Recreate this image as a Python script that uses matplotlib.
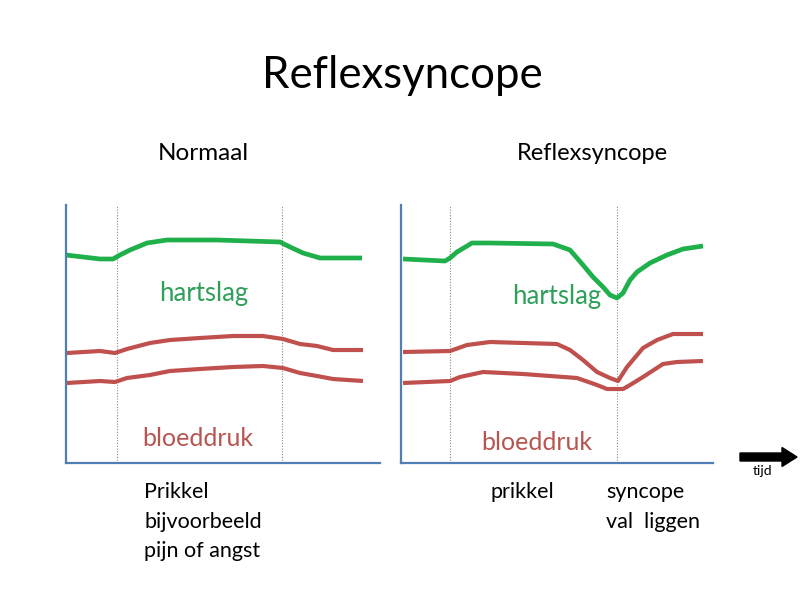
import matplotlib.pyplot as plt
from matplotlib.patches import FancyArrow

plt.rcParams["font.family"] = ["Lato", "DejaVu Sans"]

GREEN = "#1fb04c"
RED = "#c0504d"
AXIS_BLUE = "#4f7fb5"
GREEN_TEXT = "#2ea05a"
RED_TEXT = "#b85450"

# Normaal panel: time, level (arbitrary units above the baseline)
normal_hr_t = [0, 34, 47, 54, 64, 81, 101, 151, 214, 224, 237, 254, 296]
normal_hr = [208, 204, 204, 208, 213, 220, 223, 223, 221, 216, 210, 205, 205]
normal_bp_t = [1, 34, 49, 61, 84, 104, 134, 167, 197, 217, 234, 251, 267, 297]
normal_sys = [110, 112, 110, 114, 120, 123, 125, 127, 127, 124, 119, 117, 113, 113]
normal_dia = [80, 82, 81, 85, 88, 92, 94, 96, 97, 95, 90, 87, 84, 82]
normal_marks = [51, 216]

# Reflexsyncope panel
syncope_hr_t = [2, 44, 49, 56, 71, 89, 152, 169, 182, 192, 202, 209, 216,
                222, 229, 236, 249, 266, 282, 302]
syncope_hr = [204, 202, 205, 211, 220, 220, 219, 213, 198, 186, 176, 168, 165,
              170, 183, 191, 200, 208, 214, 217]
syncope_sys_t = [2, 49, 66, 89, 156, 169, 182, 196, 209, 217, 226, 242, 256, 272, 302]
syncope_sys = [111, 112, 118, 121, 119, 113, 103, 91, 85, 82, 96, 115, 123, 129, 129]
syncope_dia_t = [2, 49, 59, 82, 122, 176, 196, 206, 222, 229, 242, 262, 276, 302]
syncope_dia = [80, 82, 86, 91, 89, 85, 78, 74, 74, 78, 86, 99, 101, 102]
syncope_marks = [49, 216]


def px_axes(fig, left, top, right, bottom):
    return fig.add_axes([left / 800, 1 - bottom / 600, (right - left) / 800, (bottom - top) / 600])


def style_panel(ax, width, marks):
    ax.set_xlim(0, width)
    ax.set_ylim(0, 258)
    for side in ("top", "right"):
        ax.spines[side].set_visible(False)
    for side in ("left", "bottom"):
        ax.spines[side].set_color(AXIS_BLUE)
        ax.spines[side].set_linewidth(1.6)
    ax.set_xticks([])
    ax.set_yticks([])
    for m in marks:
        ax.axvline(m, color="#8a8a8a", linewidth=0.8, linestyle=(0, (1, 1.5)))


fig = plt.figure(figsize=(8, 6), dpi=100)

ax1 = px_axes(fig, 66, 205, 380, 463)
style_panel(ax1, 314, normal_marks)
ax1.plot(normal_hr_t, normal_hr, color=GREEN, linewidth=3.4, solid_capstyle="butt")
ax1.plot(normal_bp_t, normal_sys, color=RED, linewidth=3.0, solid_capstyle="butt")
ax1.plot(normal_bp_t, normal_dia, color=RED, linewidth=3.0, solid_capstyle="butt")

ax2 = px_axes(fig, 401, 205, 713, 463)
style_panel(ax2, 312, syncope_marks)
ax2.plot(syncope_hr_t, syncope_hr, color=GREEN, linewidth=3.4, solid_capstyle="butt")
ax2.plot(syncope_sys_t, syncope_sys, color=RED, linewidth=3.0, solid_capstyle="butt")
ax2.plot(syncope_dia_t, syncope_dia, color=RED, linewidth=3.0, solid_capstyle="butt")


def ftext(x, y, s, **kw):
    fig.text(x / 800, 1 - y / 600, s, va="center", **kw)


ftext(402, 75, "Reflexsyncope", ha="center", fontsize=31.5)
ftext(203, 153, "Normaal", ha="center", fontsize=17.5)
ftext(592, 153, "Reflexsyncope", ha="center", fontsize=17)

ftext(204, 294, "hartslag", ha="center", fontsize=18.5, color=GREEN_TEXT)
ftext(557, 296, "hartslag", ha="center", fontsize=18.5, color=GREEN_TEXT)
ftext(198, 438, "bloeddruk", ha="center", fontsize=18, color=RED_TEXT)
ftext(537, 442, "bloeddruk", ha="center", fontsize=18, color=RED_TEXT)

ftext(144, 492, "Prikkel", ha="left", fontsize=15.5)
ftext(144, 522, "bijvoorbeeld", ha="left", fontsize=15.5)
ftext(144, 551, "pijn of angst", ha="left", fontsize=15.5)
ftext(490, 492, "prikkel", ha="left", fontsize=15.5)
ftext(606, 492, "syncope", ha="left", fontsize=15.5)
ftext(606, 522, "val  liggen", ha="left", fontsize=15.5)

fig.patches.append(FancyArrow(
    740 / 800, 1 - 457 / 600, 42 / 800, 0, width=8 / 600, head_width=19 / 600,
    head_length=15 / 800, length_includes_head=False, color="black",
    transform=fig.transFigure, figure=fig))
ftext(763, 471, "tijd", ha="center", fontsize=10)

fig.savefig("out.png", dpi=100)
